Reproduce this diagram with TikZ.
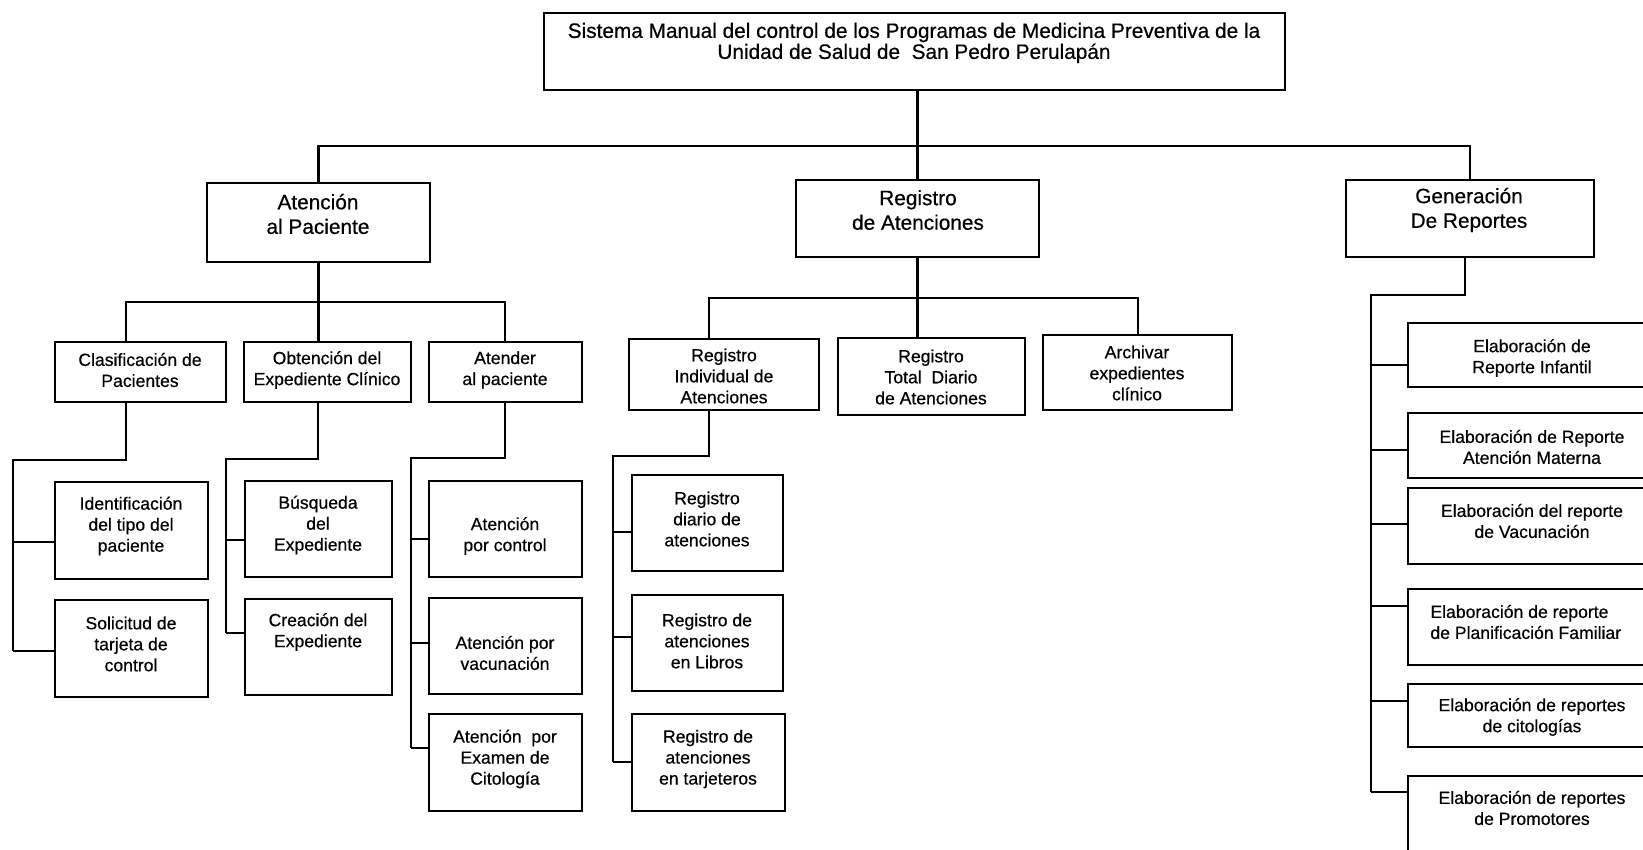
\documentclass[tikz,border=0pt]{standalone}
\usepackage{fontspec}
\setmainfont{Liberation Sans}[FakeBold=0.5]
\usetikzlibrary{fit}
\begin{document}
\begin{tikzpicture}[x=0.5pt,y=-0.5pt,
  box/.style={draw, line width=1.4pt, inner sep=0pt},
  link/.style={line width=1.3pt},
  txt/.style={align=center, inner sep=0pt, font=\fontsize{8.8}{10.5}\selectfont},
  bigtxt/.style={align=center, inner sep=0pt, font=\fontsize{10.4}{12.3}\selectfont},
  toptxt/.style={align=center, inner sep=0pt, font=\fontsize{10.4}{10.5}\selectfont}]

\useasboundingbox (0,0) rectangle (1643,850);
\clip (0,0) rectangle (1643,850);

% ---------- root ----------
\node[box, fit={(544,13) (1285,90)}] (top) {};
\node[toptxt] (top-t) at (914,43) {Sistema Manual del control de los Programas de Medicina Preventiva de la\\Unidad de Salud de\ \ San Pedro Perulapán};

% ---------- first level ----------
\node[box, fit={(207,183) (430,262)}] (aten) {};
\node[bigtxt] (aten-t) at (318,214) {Atención\\al Paciente};
\node[box, fit={(796,180) (1039,257)}] (regat) {};
\node[bigtxt] (regat-t) at (918,210) {Registro\\de Atenciones};
\node[box, fit={(1346,180) (1594,257)}] (gen) {};
\node[bigtxt] (gen-t) at (1469,210) {Generación\\De Reportes};

% ---------- second level ----------
\node[box, fit={(55,342) (226,402)}] (clas) {};
\node[txt] (clas-t) at (140,370) {Clasificación de\\Pacientes};
\node[box, fit={(244,342) (411,402)}] (obt) {};
\node[txt] (obt-t) at (327,370) {Obtención del\\Expediente Clínico};
\node[box, fit={(429,342) (582,402)}] (atender) {};
\node[txt] (atender-t) at (505,370) {Atender\\al paciente};
\node[box, fit={(629,339) (819,410)}] (regind) {};
\node[txt] (regind-t) at (724,376) {Registro\\Individual de\\Atenciones};
\node[box, fit={(838,338) (1025,415)}] (regtot) {};
\node[txt] (regtot-t) at (931,377) {Registro\\Total\ \ Diario\\de Atenciones};
\node[box, fit={(1043,335) (1232,410)}] (arch) {};
\node[txt] (arch-t) at (1137,373) {Archivar\\expedientes\\clínico};

% ---------- third level: patient care ----------
\node[box, fit={(55,482) (208,579)}] (ident) {};
\node[txt] (ident-t) at (131,526) {Identificación\\del tipo del\\paciente};
\node[box, fit={(55,600) (208,697)}] (solic) {};
\node[txt] (solic-t) at (131,644) {Solicitud de\\tarjeta de\\control};
\node[box, fit={(245,481) (392,577)}] (busq) {};
\node[txt] (busq-t) at (318,525) {Búsqueda\\del\\Expediente};
\node[box, fit={(245,599) (392,695)}] (crea) {};
\node[txt] (crea-t) at (318,632) {Creación del\\Expediente};
\node[box, fit={(429,481) (582,577)}] (apc) {};
\node[txt] (apc-t) at (505,536) {Atención\\por control};
\node[box, fit={(429,598) (582,694)}] (apv) {};
\node[txt] (apv-t) at (505,653) {Atención por\\vacunación};
\node[box, fit={(429,714) (582,811)}] (ape) {};
\node[txt] (ape-t) at (505,759) {Atención\ \ por\\Examen de\\Citología};

% ---------- third level: records ----------
\node[box, fit={(632,475) (783,571)}] (rdia) {};
\node[txt] (rdia-t) at (707,519) {Registro\\diario de\\atenciones};
\node[box, fit={(632,595) (783,691)}] (rlib) {};
\node[txt] (rlib-t) at (707,641) {Registro de\\atenciones\\en Libros};
\node[box, fit={(632,714) (785,811)}] (rtar) {};
\node[txt] (rtar-t) at (708,759) {Registro de\\atenciones\\en tarjeteros};

% ---------- reports ----------
\node[box, fit={(1408,323) (1656,387)}] (einf) {};
\node[txt] (einf-t) at (1532,358) {Elaboración de\\Reporte Infantil};
\node[box, fit={(1408,413) (1656,478)}] (emat) {};
\node[txt] (emat-t) at (1532,447) {Elaboración de Reporte\\Atención Materna};
\node[box, fit={(1408,488) (1656,564)}] (evac) {};
\node[txt] (evac-t) at (1532,521) {Elaboración del reporte\\de Vacunación};
\node[box, fit={(1408,589) (1656,665)}] (epla) {};
\node[txt, align=left, anchor=west] (epla-t) at (1430,622) {Elaboración de reporte\\de Planificación Familiar};
\node[box, fit={(1408,684) (1656,747)}] (ecit) {};
\node[txt] (ecit-t) at (1532,717) {Elaboración de reportes\\de citologías};
\node[box, fit={(1408,776) (1656,880)}] (epro) {};
\node[txt] (epro-t) at (1532,808) {Elaboración de reportes\\de Promotores};

% ---------- root to first level ----------
\coordinate (bus0) at (0,146);
\draw[link] (top.south -| regat.north) -- (regat.north);
\draw[link] (aten.north) -- (aten.north |- bus0) -- (gen.north |- bus0) -- (gen.north);

% ---------- first to second level ----------
\coordinate (busA) at (126,302);
\coordinate (busAr) at (505,302);
\draw[link] (aten.south) -- (aten.south |- obt.north);
\draw[link] (clas.north -| busA) -- (busA) -- (busAr) -- (atender.north -| busAr);

\coordinate (busR) at (709,298);
\coordinate (busRr) at (1138,298);
\draw[link] (regat.south) -- (regat.south |- regtot.north);
\draw[link] (regind.north -| busR) -- (busR) -- (busRr) -- (arch.north -| busRr);

% reports trunk and branches
\coordinate (g1) at (1465,295);
\coordinate (g2) at (1371,295);
\coordinate (g3) at (1371,792);
\draw[link] (gen.south -| g1) -- (g1) -- (g2) -- (g3);
\coordinate (jI) at (1371,365);
\coordinate (jM) at (1371,450);
\coordinate (jV) at (1371,524);
\coordinate (jP) at (1371,606);
\coordinate (jC) at (1371,701);
\draw[link] (jI) -- (einf.west |- jI);
\draw[link] (jM) -- (emat.west |- jM);
\draw[link] (jV) -- (evac.west |- jV);
\draw[link] (jP) -- (epla.west |- jP);
\draw[link] (jC) -- (ecit.west |- jC);
\draw[link] (g3) -- (epro.west |- g3);

% ---------- second to third level ----------
% classification
\coordinate (c1) at (126,460);
\coordinate (c2) at (13,460);
\coordinate (c3) at (13,651);
\coordinate (cI) at (13,542);
\draw[link] (clas.south -| c1) -- (c1) -- (c2) -- (c3);
\draw[link] (cI) -- (ident.west |- cI);
\draw[link] (c3) -- (solic.west |- c3);

% clinical file
\coordinate (o1) at (318,459);
\coordinate (o2) at (226,459);
\coordinate (o3) at (226,633);
\coordinate (oB) at (226,540);
\draw[link] (obt.south -| o1) -- (o1) -- (o2) -- (o3);
\draw[link] (oB) -- (busq.west |- oB);
\draw[link] (o3) -- (crea.west |- o3);

% patient attention
\coordinate (a1) at (505,458);
\coordinate (a2) at (411,458);
\coordinate (a3) at (411,748);
\coordinate (aC) at (411,539);
\coordinate (aV) at (411,643);
\draw[link] (atender.south -| a1) -- (a1) -- (a2) -- (a3);
\draw[link] (aC) -- (apc.west |- aC);
\draw[link] (aV) -- (apv.west |- aV);
\draw[link] (a3) -- (ape.west |- a3);

% individual records
\coordinate (r1) at (709,456);
\coordinate (r2) at (613,456);
\coordinate (r3) at (613,762);
\coordinate (rD) at (613,532);
\coordinate (rL) at (613,637);
\draw[link] (regind.south -| r1) -- (r1) -- (r2) -- (r3);
\draw[link] (rD) -- (rdia.west |- rD);
\draw[link] (rL) -- (rlib.west |- rL);
\draw[link] (r3) -- (rtar.west |- r3);

\end{tikzpicture}
\end{document}
